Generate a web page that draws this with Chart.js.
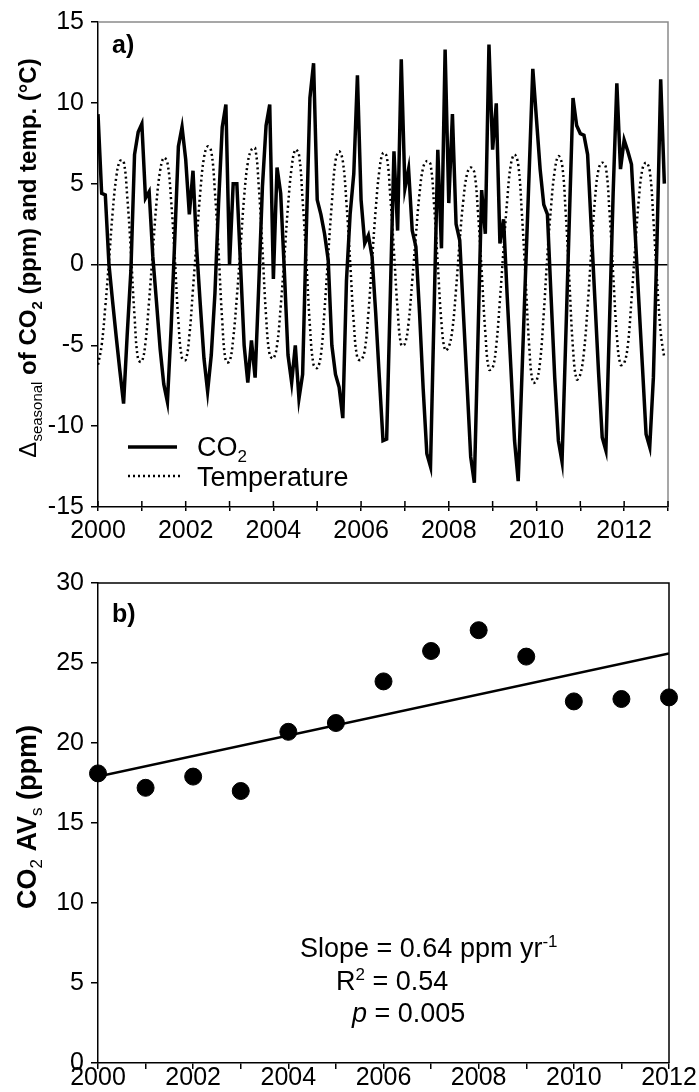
<!DOCTYPE html>
<html>
<head>
<meta charset="utf-8">
<script src="https://cdn.jsdelivr.net/npm/chart.js@4.4.1/dist/chart.umd.min.js"></script>
<style>
  html, body { margin: 0; padding: 0; background: #fff; }
  body { width: 699px; height: 1092px; position: relative; overflow: hidden; }
  .panel { position: absolute; left: 0; width: 699px; }
  #topPanel { top: 0; height: 545px; }
  #bottomPanel { top: 545px; height: 547px; }
</style>
</head>
<body>
<div class="panel" id="topPanel"><canvas id="seasonalChart"></canvas></div>
<div class="panel" id="bottomPanel"><canvas id="avsChart"></canvas></div>
<script>
// Panel a) : monthly seasonal deviations, Jan 2000 .. Dec 2012
const startYear = 2000;
const co2Seasonal = [
  9.3, 4.4, 4.3, 0.0, -2.3, -4.5, -6.6, -8.6, -4.3, -0.4, 6.8, 8.2,      // 2000
  8.7, 4.1, 4.5, 0.5, -2.3, -5.2, -7.4, -8.5, -4.0, 1.5, 7.3, 8.5,       // 2001
  6.5, 3.1, 5.8, 1.0, -2.5, -5.8, -7.85, -5.6, -1.8, 3.8, 8.5, 9.9,      // 2002
  0.0, 5.0, 5.0, 0.0, -5.0, -7.3, -4.7, -7.0, -1.3, 4.8, 8.6, 9.9,       // 2003
  -0.9, 6.0, 4.4, -0.4, -5.6, -7.3, -5.0, -8.3, -6.8, 2.0, 10.3, 12.45,  // 2004
  4.0, 3.1, 1.9, 0.3, -5.0, -6.8, -7.6, -9.5, -1.0, 3.1, 5.6, 11.7,      // 2005
  4.0, 1.3, 1.8, 0.5, -3.0, -7.0, -10.9, -10.8, -1.9, 7.0, 2.1, 12.7,    // 2006
  4.7, 5.9, 2.1, 1.1, -3.0, -7.7, -11.7, -12.5, -2.7, 7.1, 1.0, 13.3,    // 2007
  3.8, 9.3, 2.5, 1.5, -3.0, -7.4, -11.9, -13.5, -4.5, 4.6, 1.9, 13.6,    // 2008
  7.1, 9.97, 1.3, 2.8, -2.0, -6.4, -10.9, -13.4, -7.0, -0.6, 5.7, 12.1,  // 2009
  9.0, 5.9, 3.7, 3.1, -2.0, -7.0, -10.9, -12.2, -4.7, 2.8, 10.3, 8.6,    // 2010
  8.1, 8.0, 6.8, 2.3, -2.2, -6.7, -10.7, -11.5, -3.5, 4.5, 11.2, 5.9,    // 2011
  7.7, 7.0, 6.2, 2.0, -2.2, -6.3, -10.5, -11.3, -7.0, 1.5, 11.45, 5.0    // 2012
];
const tempSeasonal = [
  -6.2, -5.0, -2.6, 0.2, 3.2, 5.4, 6.4, 6.4, 4.2, 0.8, -3.2, -5.9,
  -6.0, -4.8, -2.2, 0.8, 3.8, 5.8, 6.6, 6.3, 4.0, 0.5, -3.5, -5.8,
  -5.9, -4.4, -1.5, 1.5, 4.5, 6.6, 7.3, 7.0, 4.5, 0.8, -3.5, -6.0,
  -6.0, -4.6, -2.0, 1.0, 4.2, 6.3, 7.1, 7.2, 4.8, 1.0, -3.2, -5.6,
  -5.8, -5.0, -2.6, 0.4, 3.6, 6.0, 7.1, 6.8, 4.0, 0.3, -3.8, -6.2,
  -6.4, -5.6, -2.8, 0.6, 3.8, 6.4, 7.0, 6.4, 3.8, 0.2, -3.6, -5.8,
  -5.9, -5.3, -3.0, 0.2, 3.4, 5.8, 6.9, 6.7, 4.2, 0.8, -2.8, -5.0,
  -4.9, -3.6, -1.0, 1.8, 4.4, 6.0, 6.4, 6.2, 3.6, 0.0, -3.6, -5.3,
  -5.1, -4.0, -1.5, 1.5, 4.0, 5.6, 6.0, 5.7, 3.2, -0.4, -4.2, -6.5,
  -6.4, -5.0, -2.2, 1.0, 4.0, 6.2, 6.8, 6.2, 3.2, -0.8, -5.0, -7.3,
  -7.2, -6.0, -3.0, 0.6, 3.6, 5.8, 6.7, 6.2, 3.2, -1.0, -5.2, -7.1,
  -6.8, -5.4, -2.6, 0.8, 4.0, 5.9, 6.3, 6.0, 3.2, -0.6, -4.4, -6.2,
  -6.1, -5.0, -2.2, 1.0, 4.0, 5.9, 6.3, 5.8, 2.8, -1.0, -4.2, -5.8
];

// Panel b) : annual CO2 amplitude and its trend
const avsYears = [2000, 2001, 2002, 2003, 2004, 2005, 2006, 2007, 2008, 2009, 2010, 2011, 2012];
const avsValues = [18.1, 17.2, 17.9, 17.0, 20.7, 21.25, 23.85, 25.75, 27.05, 25.4, 22.6, 22.75, 22.85];
const trendYears = [2000, 2012];
const trendValues = [17.9, 25.6];

const FONT = "'Liberation Sans', Arial, sans-serif";
Chart.defaults.font.family = FONT;
Chart.defaults.color = '#000';

// draws a run of text pieces (for sub/superscripts) starting at x or centred on x
function drawRuns(ctx, runs, x, y, centred) {
    let w = 0;
    runs.forEach(r => { ctx.font = r.font; w += ctx.measureText(r.t).width; });
    let cx = centred ? x - w / 2 : x;
    runs.forEach(r => {
        ctx.font = r.font;
        ctx.fillText(r.t, cx, y + (r.dy || 0));
        cx += ctx.measureText(r.t).width;
    });
}

const monthX = co2Seasonal.map((_, i) => startYear + i / 12);

const topDecor = {
    id: 'topDecor',
    afterDraw(chart) {
        const { ctx, chartArea: a } = chart;
        const xs = chart.scales.x;
        ctx.save();
        // grey top and right frame
        ctx.strokeStyle = '#8a8a8a';
        ctx.lineWidth = 1.5;
        ctx.beginPath();
        ctx.moveTo(a.left, a.top); ctx.lineTo(a.right, a.top); ctx.lineTo(a.right, a.bottom);
        ctx.stroke();
        // year ticks also reach inside the plot
        ctx.strokeStyle = '#000';
        ctx.beginPath();
        xs.ticks.forEach(t => {
            const px = xs.getPixelForValue(t.value);
            ctx.moveTo(px, a.bottom - 6); ctx.lineTo(px, a.bottom);
        });
        ctx.stroke();
        ctx.fillStyle = '#000';
        ctx.textBaseline = 'alphabetic';
        drawRuns(ctx, [{ t: 'a)', font: 'bold 25px ' + FONT }], 112, 53, false);
        // legend
        ctx.lineWidth = 3.5;
        ctx.beginPath(); ctx.moveTo(128, 447); ctx.lineTo(177, 447); ctx.stroke();
        ctx.lineWidth = 2.5;
        ctx.setLineDash([2, 3]);
        ctx.beginPath(); ctx.moveTo(128, 476); ctx.lineTo(180, 476); ctx.stroke();
        ctx.setLineDash([]);
        drawRuns(ctx, [
            { t: 'CO', font: '27px ' + FONT },
            { t: '2', font: '17px ' + FONT, dy: 6 }
        ], 197, 456, false);
        drawRuns(ctx, [{ t: 'Temperature', font: '27px ' + FONT }], 197, 486, false);
        // y axis title
        ctx.translate(36, 258);
        ctx.rotate(-Math.PI / 2);
        drawRuns(ctx, [
            { t: '\u0394', font: '24px ' + FONT },
            { t: 'seasonal', font: '15px ' + FONT, dy: 6 },
            { t: ' of CO', font: 'bold 24px ' + FONT },
            { t: '2', font: 'bold 15px ' + FONT, dy: 6 },
            { t: ' (ppm) and temp. (\u00B0C)', font: 'bold 24px ' + FONT }
        ], 0, 0, true);
        ctx.restore();
    }
};

new Chart(document.getElementById('seasonalChart'), {
    type: 'line',
    data: {
        datasets: [{
            label: 'CO2',
            data: co2Seasonal.map((v, i) => ({ x: monthX[i], y: v })),
            borderColor: '#000',
            borderWidth: 3.5,
            pointRadius: 0,
            tension: 0
        }, {
            label: 'Temperature',
            data: tempSeasonal.map((v, i) => ({ x: monthX[i], y: v })),
            borderColor: '#000',
            borderWidth: 2.5,
            borderDash: [2, 3],
            pointRadius: 0,
            tension: 0.4
        }]
    },
    options: {
        responsive: true,
        maintainAspectRatio: false,
        animation: false,
        layout: { padding: { top: 16, right: 31, left: 0, bottom: 0 } },
        plugins: { legend: { display: false }, tooltip: { enabled: false } },
        scales: {
            x: {
                type: 'linear', min: 2000, max: 2013,
                afterFit: (s) => { s.height = 38; },
                ticks: {
                    stepSize: 1, autoSkip: false, maxRotation: 0, padding: 5,
                    font: { size: 25 },
                    callback: (v) => (v % 2 === 0 ? String(v) : '')
                },
                grid: { drawOnChartArea: false, color: '#000', tickLength: 4, lineWidth: 1.5 },
                border: { color: '#000', width: 1.5 }
            },
            y: {
                min: -15, max: 15,
                afterFit: (s) => { s.width = 98; },
                ticks: { stepSize: 5, padding: 7, font: { size: 25 } },
                grid: {
                    color: (ctx) => (ctx.tick && ctx.tick.value === 0 ? '#000' : 'rgba(0,0,0,0)'),
                    tickColor: '#000', tickLength: 7, lineWidth: 1.5
                },
                border: { color: '#000', width: 1.5 }
            }
        }
    },
    plugins: [topDecor]
});

const bottomDecor = {
    id: 'bottomDecor',
    afterDraw(chart) {
        const { ctx, chartArea: a } = chart;
        ctx.save();
        ctx.strokeStyle = '#000';
        ctx.lineWidth = 1.5;
        ctx.beginPath();
        ctx.moveTo(a.left, a.top); ctx.lineTo(a.right, a.top); ctx.lineTo(a.right, a.bottom);
        ctx.stroke();
        ctx.fillStyle = '#000';
        ctx.textBaseline = 'alphabetic';
        drawRuns(ctx, [{ t: 'b)', font: 'bold 25px ' + FONT }], 112, 77, false);
        drawRuns(ctx, [
            { t: 'Slope = 0.64 ppm yr', font: '27px ' + FONT },
            { t: '-1', font: '17px ' + FONT, dy: -10 }
        ], 300, 412, false);
        drawRuns(ctx, [
            { t: 'R', font: '27px ' + FONT },
            { t: '2', font: '17px ' + FONT, dy: -10 },
            { t: ' = 0.54', font: '27px ' + FONT }
        ], 336, 445, false);
        drawRuns(ctx, [
            { t: 'p', font: 'italic 27px ' + FONT },
            { t: ' = 0.005', font: '27px ' + FONT }
        ], 352, 477, false);
        ctx.translate(36, 272);
        ctx.rotate(-Math.PI / 2);
        drawRuns(ctx, [
            { t: 'CO', font: 'bold 27px ' + FONT },
            { t: '2', font: '17px ' + FONT, dy: 6 },
            { t: ' AV', font: 'bold 27px ' + FONT },
            { t: 's', font: '17px ' + FONT, dy: 6 },
            { t: ' (ppm)', font: 'bold 27px ' + FONT }
        ], 0, 0, true);
        ctx.restore();
    }
};

new Chart(document.getElementById('avsChart'), {
    type: 'scatter',
    data: {
        datasets: [{
            label: 'CO2 AVs',
            data: avsYears.map((y, i) => ({ x: y, y: avsValues[i] })),
            backgroundColor: '#000',
            borderColor: '#000',
            pointRadius: 8.5,
            clip: false
        }, {
            label: 'Trend',
            type: 'line',
            data: trendYears.map((y, i) => ({ x: y, y: trendValues[i] })),
            borderColor: '#000',
            borderWidth: 2.5,
            pointRadius: 0,
            fill: false
        }]
    },
    options: {
        responsive: true,
        maintainAspectRatio: false,
        animation: false,
        layout: { padding: { top: 38, right: 30, left: 0, bottom: 0 } },
        plugins: { legend: { display: false }, tooltip: { enabled: false } },
        scales: {
            x: {
                type: 'linear', min: 2000, max: 2012,
                afterFit: (s) => { s.height = 29; },
                ticks: {
                    stepSize: 1, autoSkip: false, maxRotation: 0, padding: -6,
                    font: { size: 25 },
                    callback: (v) => (v % 2 === 0 ? String(v) : '')
                },
                grid: { drawOnChartArea: false, color: '#000', tickLength: 6, lineWidth: 1.5 },
                border: { color: '#000', width: 1.5 }
            },
            y: {
                min: 0, max: 30,
                afterFit: (s) => { s.width = 98; },
                ticks: { stepSize: 5, padding: 7, font: { size: 25 } },
                grid: { drawOnChartArea: false, color: '#000', tickLength: 7, lineWidth: 1.5 },
                border: { color: '#000', width: 1.5 }
            }
        }
    },
    plugins: [bottomDecor]
});
</script>
</body>
</html>
